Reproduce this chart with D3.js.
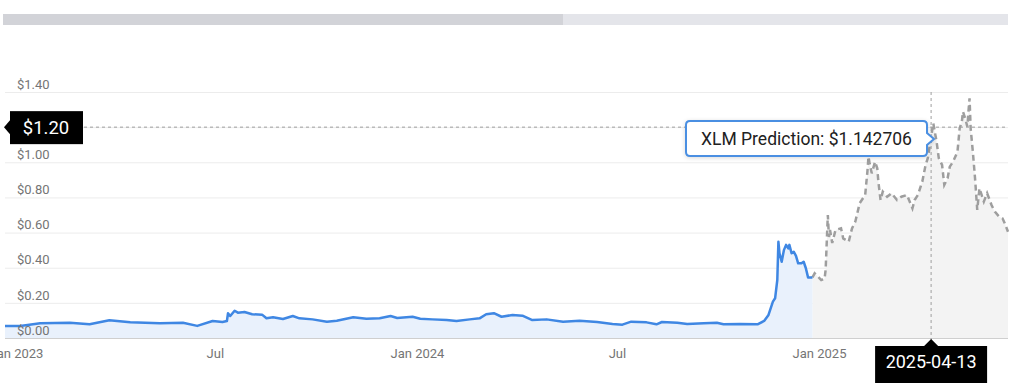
<!DOCTYPE html>
<html>
<head>
<meta charset="utf-8">
<script src="https://cdn.jsdelivr.net/npm/d3@7"></script>
<style>
  html, body { margin: 0; padding: 0; background: #fff; }
  svg { display: block; font-family: Roboto, "Noto Sans", sans-serif; }
</style>
</head>
<body>
<svg id="chart" width="1024" height="383"></svg>
<script>
// ---------- DATA ----------
const histDates = ["2022-12-22","2023-01-05","2023-01-23","2023-02-19","2023-03-09","2023-03-27","2023-04-15","2023-05-12","2023-06-02","2023-06-15","2023-06-29","2023-07-08","2023-07-12","2023-07-13","2023-07-15","2023-07-19","2023-07-22","2023-07-28","2023-08-04","2023-08-13","2023-08-17","2023-08-23","2023-09-01","2023-09-10","2023-09-16","2023-09-28","2023-10-11","2023-10-20","2023-11-04","2023-11-16","2023-11-28","2023-12-08","2023-12-14","2023-12-28","2024-01-04","2024-01-15","2024-01-28","2024-02-06","2024-02-18","2024-02-27","2024-03-04","2024-03-11","2024-03-18","2024-03-28","2024-04-06","2024-04-15","2024-04-28","2024-05-13","2024-05-28","2024-06-13","2024-06-27","2024-07-06","2024-07-14","2024-07-28","2024-08-06","2024-08-11","2024-08-25","2024-09-03","2024-09-18","2024-09-30","2024-10-06","2024-10-21","2024-11-06","2024-11-12","2024-11-16","2024-11-20","2024-11-22","2024-11-24","2024-11-25","2024-11-26","2024-11-28","2024-11-30","2024-12-02","2024-12-04","2024-12-05","2024-12-07","2024-12-09","2024-12-11","2024-12-13","2024-12-16","2024-12-18","2024-12-20","2024-12-22","2024-12-26"];
const histValues = [0.068,0.068,0.084,0.087,0.078,0.101,0.089,0.084,0.087,0.069,0.097,0.091,0.097,0.141,0.125,0.155,0.144,0.148,0.135,0.133,0.112,0.118,0.108,0.125,0.112,0.106,0.093,0.098,0.118,0.110,0.112,0.125,0.114,0.121,0.110,0.106,0.102,0.097,0.106,0.112,0.135,0.141,0.121,0.131,0.127,0.102,0.106,0.093,0.098,0.091,0.080,0.076,0.093,0.089,0.078,0.091,0.087,0.080,0.084,0.087,0.078,0.080,0.078,0.097,0.131,0.207,0.226,0.330,0.548,0.482,0.434,0.500,0.530,0.510,0.530,0.482,0.491,0.467,0.425,0.425,0.434,0.397,0.345,0.345];

const predDates = ["2024-12-26","2024-12-28","2024-12-31","2025-01-03","2025-01-06","2025-01-07","2025-01-09","2025-01-10","2025-01-11","2025-01-13","2025-01-16","2025-01-21","2025-01-23","2025-01-28","2025-01-31","2025-02-03","2025-02-07","2025-02-12","2025-02-14","2025-02-15","2025-02-16","2025-02-18","2025-02-21","2025-02-23","2025-02-24","2025-02-26","2025-02-28","2025-03-04","2025-03-08","2025-03-13","2025-03-17","2025-03-22","2025-03-27","2025-03-29","2025-04-01","2025-04-05","2025-04-08","2025-04-10","2025-04-13","2025-04-15","2025-04-18","2025-04-20","2025-04-23","2025-04-25","2025-04-28","2025-04-30","2025-05-03","2025-05-07","2025-05-09","2025-05-11","2025-05-12","2025-05-14","2025-05-16","2025-05-17","2025-05-18","2025-05-19","2025-05-21","2025-05-23","2025-05-25","2025-05-27","2025-05-29","2025-05-31","2025-06-03","2025-06-07","2025-06-10","2025-06-14","2025-06-17","2025-06-19","2025-06-22"];
const predValues = [0.345,0.368,0.349,0.330,0.336,0.387,0.700,0.575,0.615,0.541,0.615,0.624,0.567,0.548,0.624,0.662,0.767,0.814,0.946,1.032,0.994,0.937,1.003,0.966,0.890,0.785,0.833,0.804,0.824,0.785,0.804,0.814,0.738,0.785,0.814,0.890,0.985,1.023,1.142706,1.222,1.117,1.023,0.985,0.871,0.909,0.975,1.003,1.060,1.193,1.231,1.288,1.250,1.203,1.288,1.364,1.193,1.060,0.909,0.729,0.852,0.814,0.776,0.824,0.757,0.719,0.690,0.681,0.653,0.605];

const yTicks = [0, 0.2, 0.4, 0.6, 0.8, 1.0, 1.2, 1.4];
const xTickDates = ["2023-01-01","2023-07-01","2024-01-01","2024-07-01","2025-01-01"];
const xTickLabels = ["Jan 2023","Jul","Jan 2024","Jul","Jan 2025"];

const hoverDate = "2025-04-13";
const hoverValue = 1.142706;
const crossValue = 1.20;
const seriesName = "XLM Prediction";
const domainStart = "2022-12-22";
const domainEnd = "2025-06-22";

// ---------- CHART ----------
(function () {
const parse = d3.utcParse("%Y-%m-%d");
const hist = histDates.map((d, i) => ({ date: parse(d), value: histValues[i] }));
const pred = predDates.map((d, i) => ({ date: parse(d), value: predValues[i] }));

const svg = d3.select("#chart");
const pL = 5, pR = 1008, pT = 92, pB = 338;

const x = d3.scaleUtc().domain([parse(domainStart), parse(domainEnd)]).range([pL, pR]);
const y = d3.scaleLinear().domain([0, 1.4]).range([pB, pT]);

// scrollbar at top
svg.append("rect").attr("x", 3).attr("y", 14).attr("width", pR - 3).attr("height", 11).attr("fill", "#e4e5ea");
svg.append("rect").attr("x", 3).attr("y", 14).attr("width", 560).attr("height", 11).attr("fill", "#d2d3d8");

// gridlines
const grid = svg.append("g")
  .attr("transform", `translate(${pL},0)`)
  .call(d3.axisRight(y).tickValues(yTicks.filter(t => t > 0)).tickSize(pR - pL).tickFormat(""));
grid.select(".domain").remove();
grid.selectAll("line").attr("stroke", "#ececec").attr("stroke-width", 1);

// areas
const area = d3.area().x(d => x(d.date)).y0(y(0)).y1(d => y(d.value));
svg.append("path").datum(pred).attr("d", area).attr("fill", "#f3f3f3");
svg.append("path").datum(hist).attr("d", area).attr("fill", "#e9f1fc");

// baseline axis
const xAxis = svg.append("g")
  .attr("transform", `translate(0,${pB})`)
  .call(d3.axisBottom(x).tickValues(xTickDates.map(parse)).tickSize(0).tickPadding(11)
        .tickFormat((d, i) => xTickLabels[i]));
xAxis.select(".domain").attr("stroke", "#cfcfcf").attr("d", `M${pL},0.5H${pR}`);
xAxis.selectAll("text").attr("fill", "#757575").attr("font-size", 13)
  .attr("font-family", "Roboto, sans-serif");

// lines
const line = d3.line().x(d => x(d.date)).y(d => y(d.value));
svg.append("path").datum(pred).attr("d", line).attr("fill", "none")
  .attr("stroke", "#9e9e9e").attr("stroke-width", 2.5).attr("stroke-dasharray", "6,4");
svg.append("path").datum(hist).attr("d", line).attr("fill", "none")
  .attr("stroke", "#3f87e3").attr("stroke-width", 2.5).attr("stroke-linejoin", "round");

// y axis labels (placed above gridlines, left-aligned); the one under the crosshair label is hidden
const yAxis = svg.append("g")
  .attr("transform", `translate(17,-8)`)
  .call(d3.axisRight(y).tickValues(yTicks.filter(t => Math.abs(t - crossValue) > 1e-9))
        .tickSize(0).tickPadding(0)
        .tickFormat(d => "$" + d3.format(".2f")(d)));
yAxis.select(".domain").remove();
yAxis.selectAll("text").attr("fill", "#757575").attr("font-size", 13)
  .attr("font-family", "Roboto, sans-serif");

// crosshair
const hx = x(parse(hoverDate));
const cy = y(crossValue);
svg.append("line").attr("x1", 84).attr("x2", pR).attr("y1", cy).attr("y2", cy)
  .attr("stroke", "#9e9e9e").attr("stroke-width", 1).attr("stroke-dasharray", "3,3");
svg.append("line").attr("x1", hx).attr("x2", hx).attr("y1", pT).attr("y2", 345)
  .attr("stroke", "#9e9e9e").attr("stroke-width", 1).attr("stroke-dasharray", "3,3");

// y crosshair label
const yl = svg.append("g");
yl.append("path").attr("d", `M4,${cy} L10,${cy - 7} L10,${cy + 7} Z`).attr("fill", "#000");
yl.append("rect").attr("x", 10).attr("y", cy - 16).attr("width", 73).attr("height", 33).attr("fill", "#000");
yl.append("text").attr("x", 46).attr("y", cy + 6.5).attr("text-anchor", "middle")
  .attr("fill", "#fff").attr("font-size", 18.5).text("$" + d3.format(".2f")(crossValue));

// x crosshair label
const xl = svg.append("g");
xl.append("path").attr("d", `M${hx},${339} L${hx - 7},${346} L${hx + 7},${346} Z`).attr("fill", "#000");
xl.append("rect").attr("x", hx - 56).attr("y", 346).attr("width", 112).attr("height", 40).attr("fill", "#000");
xl.append("text").attr("x", hx).attr("y", 368).attr("text-anchor", "middle")
  .attr("fill", "#fff").attr("font-size", 18).text(hoverDate);

// tooltip
const tt = svg.append("g");
const tx0 = 686, tx1 = 927, ty0 = 121, ty1 = 156, tipY = 139;
tt.append("path")
  .attr("d", `M${tx0 + 4},${ty0} H${tx1 - 4} Q${tx1},${ty0} ${tx1},${ty0 + 4} V${tipY - 6} L${tx1 + 7},${tipY} L${tx1},${tipY + 6} V${ty1 - 4} Q${tx1},${ty1} ${tx1 - 4},${ty1} H${tx0 + 4} Q${tx0},${ty1} ${tx0},${ty1 - 4} V${ty0 + 4} Q${tx0},${ty0} ${tx0 + 4},${ty0} Z`)
  .attr("fill", "#fff").attr("stroke", "#4a8fe2").attr("stroke-width", 2)
  .style("filter", "drop-shadow(0 1px 2px rgba(0,0,0,0.15))");
tt.append("text").attr("x", (tx0 + tx1) / 2).attr("y", 145).attr("text-anchor", "middle")
  .attr("fill", "#212121").attr("font-size", 17.5)
  .text(`${seriesName}: $${hoverValue}`);
})();
</script>
</body>
</html>
